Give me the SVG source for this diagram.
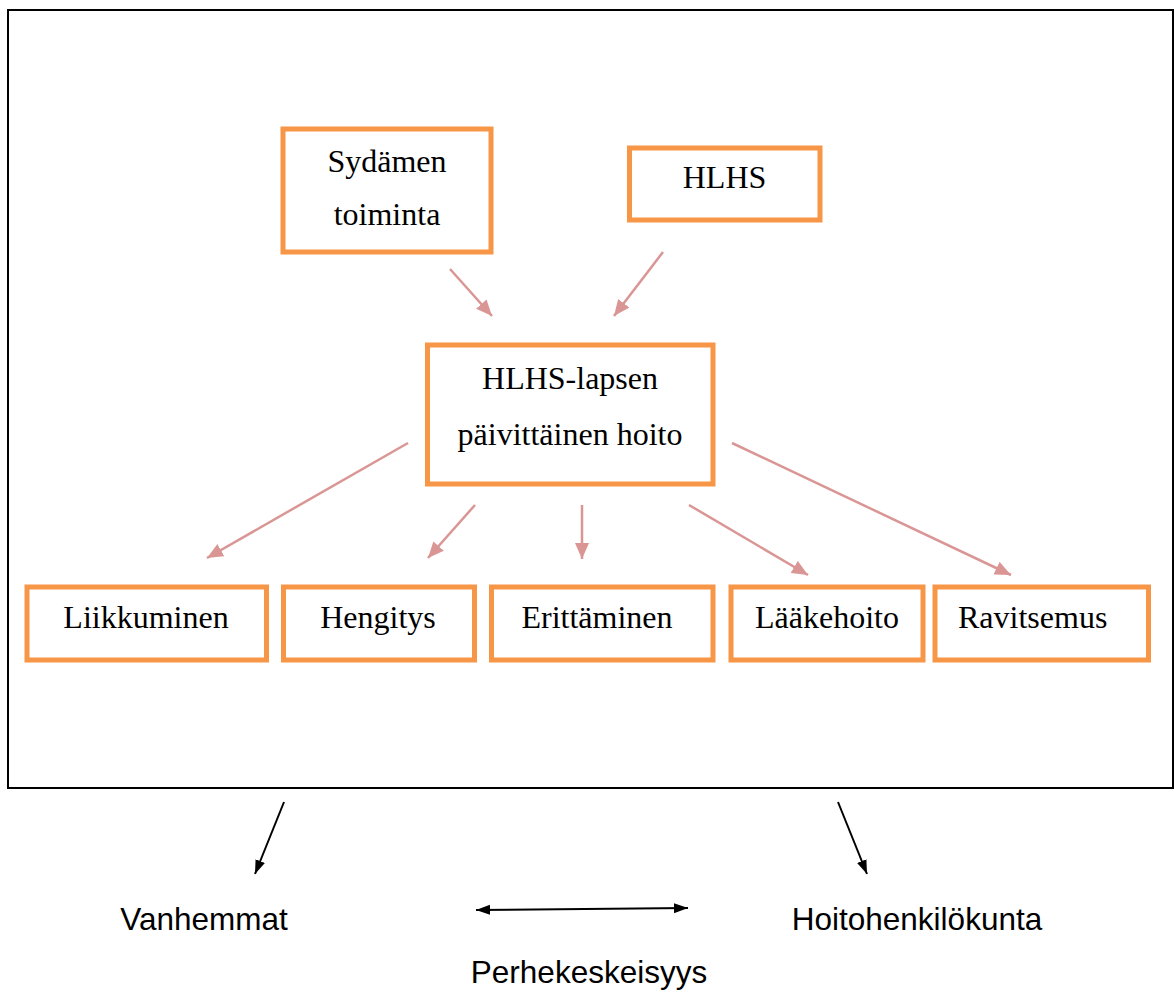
<svg xmlns="http://www.w3.org/2000/svg" width="1174" height="994" viewBox="0 0 1174 994">
<style>
.box{fill:#fff;stroke:#F79646;stroke-width:5}
.t{font-family:"Liberation Serif","Times New Roman",serif;font-size:32px;fill:#000}
.s{font-family:"Liberation Sans",Arial,sans-serif;font-size:31.5px;fill:#000;text-anchor:middle}
.pk{stroke:#D99694;stroke-width:2.5;fill:none;marker-end:url(#ap)}
.bk{stroke:#000;stroke-width:2;fill:none}
</style>
<defs>
<marker id="ap" markerUnits="userSpaceOnUse" markerWidth="17" markerHeight="15" refX="16" refY="7" orient="auto"><path d="M0,0 L16,7 L0,14 z" fill="#D99694"/></marker>
<marker id="ab" markerUnits="userSpaceOnUse" markerWidth="15" markerHeight="11" refX="14" refY="5" orient="auto-start-reverse"><path d="M0,0 L14,5 L0,10 z" fill="#000"/></marker>
</defs>
<rect id="frame" x="8" y="10" width="1165" height="778" fill="#fff" stroke="#000" stroke-width="2"/>
<g id="n-sydamen"><rect class="box" x="283" y="129" width="208" height="123"/><text class="t" x="387" y="172" text-anchor="middle">Sydämen</text><text class="t" x="387" y="225" text-anchor="middle">toiminta</text></g>
<g id="n-hlhs"><rect class="box" x="629.5" y="148" width="190.5" height="72"/><text class="t" x="724.5" y="188" text-anchor="middle">HLHS</text></g>
<g id="n-hoito"><rect class="box" x="427.5" y="345" width="285.5" height="139"/><text class="t" x="570" y="389" text-anchor="middle">HLHS-lapsen</text><text class="t" x="570" y="445" text-anchor="middle">päivittäinen hoito</text></g>
<g id="n-liikkuminen"><rect class="box" x="27" y="587" width="239.5" height="73"/><text class="t" x="146" y="628" text-anchor="middle">Liikkuminen</text></g>
<g id="n-hengitys"><rect class="box" x="283.5" y="587" width="191" height="73"/><text class="t" x="378" y="628" text-anchor="middle">Hengitys</text></g>
<g id="n-erittaminen"><rect class="box" x="491.5" y="587" width="221.5" height="73"/><text class="t" x="597" y="628" text-anchor="middle">Erittäminen</text></g>
<g id="n-laakehoito"><rect class="box" x="731" y="587" width="192" height="73"/><text class="t" x="827" y="628" text-anchor="middle">Lääkehoito</text></g>
<g id="n-ravitsemus"><rect class="box" x="935" y="587" width="213.5" height="73"/><text class="t" x="958" y="628">Ravitsemus</text></g>
<g id="n-vanhemmat"><text class="s" x="204" y="930">Vanhemmat</text></g>
<g id="n-hoitohenkilokunta"><text class="s" x="917" y="930">Hoitohenkilökunta</text></g>
<g id="n-perhekeskeisyys"><text class="s" x="589" y="983">Perhekeskeisyys</text></g>
<g id="connectors">
<line class="pk" x1="450" y1="269" x2="492" y2="316"/>
<line class="pk" x1="663" y1="252" x2="614" y2="316"/>
<line class="pk" x1="408" y1="443" x2="207" y2="558"/>
<line class="pk" x1="475" y1="505" x2="428" y2="558"/>
<line class="pk" x1="582" y1="505" x2="582" y2="559"/>
<line class="pk" x1="689" y1="505" x2="808" y2="575"/>
<line class="pk" x1="732" y1="443" x2="1011" y2="575"/>
<line class="bk" x1="284" y1="802" x2="255" y2="874" marker-end="url(#ab)"/>
<line class="bk" x1="838" y1="802" x2="867" y2="874" marker-end="url(#ab)"/>
<line class="bk" x1="476" y1="910" x2="688" y2="908" marker-start="url(#ab)" marker-end="url(#ab)"/>
</g>
</svg>
